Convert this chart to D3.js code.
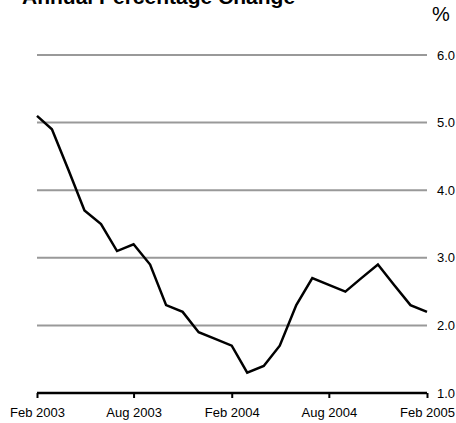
<!DOCTYPE html>
<html>
<head>
<meta charset="utf-8">
<script src="https://cdn.jsdelivr.net/npm/d3@7"></script>
<style>
  body { margin: 0; background: #fff; }
  text { font-family: "Liberation Sans", Arial, sans-serif; }
</style>
</head>
<body>
<div id="chart"></div>
<script>
// monthly values, Feb 2003 .. Feb 2005
var months = ["2003-02","2003-03","2003-04","2003-05","2003-06","2003-07","2003-08",
  "2003-09","2003-10","2003-11","2003-12","2004-01","2004-02","2004-03","2004-04",
  "2004-05","2004-06","2004-07","2004-08","2004-09","2004-10","2004-11","2004-12",
  "2005-01","2005-02"];
var values = [5.1, 4.9, 4.3, 3.7, 3.5, 3.1, 3.2, 2.9, 2.3, 2.2, 1.9, 1.8, 1.7,
  1.3, 1.4, 1.7, 2.3, 2.7, 2.6, 2.5, 2.7, 2.9, 2.6, 2.3, 2.2];
var yTicks = [1, 2, 3, 4, 5, 6];
var xTicks = ["2003-02", "2003-08", "2004-02", "2004-08", "2005-02"];

var W = 456, H = 423;
var margin = {top: 55, right: 29, bottom: 30, left: 37},
width = W - margin.left - margin.right,
height = H - margin.top - margin.bottom;

var parse = d3.timeParse("%Y-%m");
var data = months.map(function(m, i) { return {date: parse(m), value: values[i]}; });

var svg = d3.select("#chart").append("svg")
    .attr("width", W)
    .attr("height", H);

var g = svg.append("g")
    .attr("transform", "translate(" + margin.left + "," + margin.top + ")");

var x = d3.scaleTime()
    .domain([parse(months[0]), parse(months[months.length - 1])])
    .range([0, width]);

var y = d3.scaleLinear()
    .domain([1, 6])
    .range([height, 0]);

// gridlines
g.selectAll(".grid")
  .data(yTicks.filter(function(d) { return d > 1; }))
  .enter().append("line")
    .attr("class", "grid")
    .attr("x1", 0).attr("x2", width)
    .attr("y1", function(d) { return y(d); })
    .attr("y2", function(d) { return y(d); })
    .style("stroke", "#999")
    .style("stroke-width", 2);

// y labels on the right
g.selectAll(".ylab")
  .data(yTicks)
  .enter().append("text")
    .attr("x", width + 10)
    .attr("y", function(d) { return y(d); })
    .attr("dy", "0.35em")
    .style("font-size", "13px")
    .text(function(d) { return d3.format(".1f")(d); });

// x axis
var xAxis = d3.axisBottom(x)
    .tickValues(xTicks.map(parse))
    .tickSize(5)
    .tickPadding(10)
    .tickFormat(d3.timeFormat("%b %Y"));

var ax = g.append("g")
    .attr("transform", "translate(0," + height + ")")
    .call(xAxis);
ax.select(".domain").attr("d", "M0,0H" + width).style("stroke", "#000").style("stroke-width", 2.5);
ax.selectAll(".tick line").style("stroke", "#000").style("stroke-width", 2);
ax.selectAll(".tick text")
    .style("font-family", "Liberation Sans, Arial, sans-serif")
    .style("font-size", "13px")
    .style("fill", "#000");

// the line
var line = d3.line()
    .x(function(d) { return x(d.date); })
    .y(function(d) { return y(d.value); });

g.append("path")
    .datum(data)
    .attr("d", line)
    .style("fill", "none")
    .style("stroke", "#000")
    .style("stroke-width", 2.5)
    .style("stroke-linejoin", "miter");

// titles
svg.append("text")
    .attr("x", 22).attr("y", 4)
    .style("font-size", "21px")
    .style("font-weight", "bold")
    .text("Annual Percentage Change");

svg.append("text")
    .attr("x", 432).attr("y", 21)
    .style("font-size", "20px")
    .text("%");
</script>
</body>
</html>
